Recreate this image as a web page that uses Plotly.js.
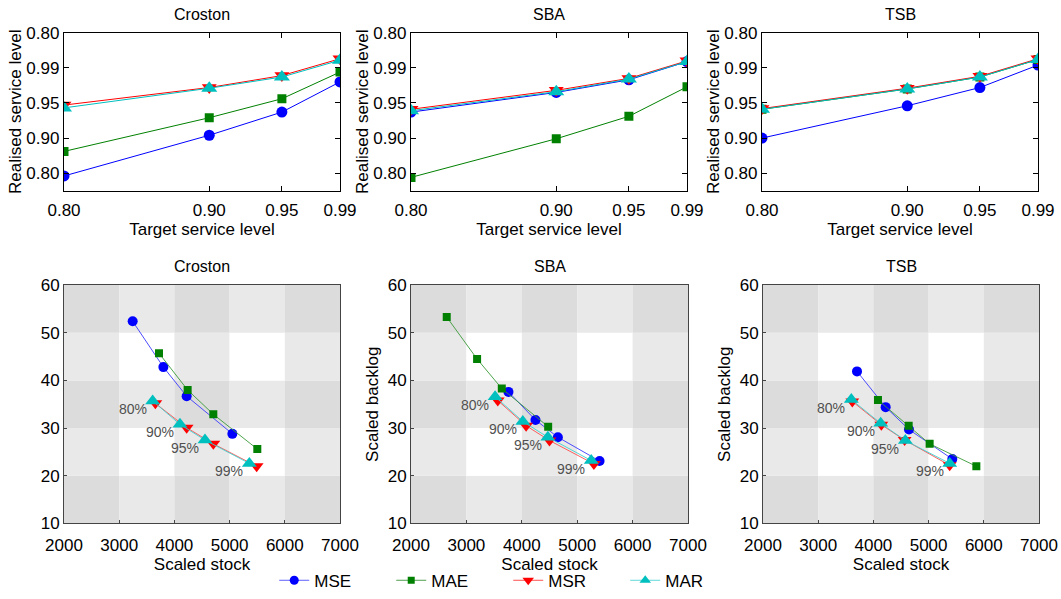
<!DOCTYPE html>
<html>
<head>
<meta charset="utf-8">
<script src="https://cdn.plot.ly/plotly-3.0.1.min.js"></script>
<style>html,body{margin:0;padding:0;background:#fff;}#chart{width:1061px;height:599px;}</style>
</head>
<body>
<div id="chart"></div>
<script>
// ---------- data ----------
const methods = ['MSE', 'MAE', 'MSR', 'MAR'];
const forecasters = ['Croston', 'SBA', 'TSB'];
const targetLevels = [0.80, 0.90, 0.95, 0.99];
const targetTickText = ['0.80', '0.90', '0.95', '0.99'];
const realisedTickVals = [0.80, 0.85, 0.90, 0.95, 1.00];
const realisedTickText = ['0.80', '0.90', '0.95', '0.99', '0.80'];
const stockTicks = [2000, 3000, 4000, 5000, 6000, 7000];
const backlogTicks = [10, 20, 30, 40, 50, 60];
const pctLabels = ['80%', '90%', '95%', '99%'];

// Realised service level (top row)
const crostonRealisedMSE = [0.796, 0.854, 0.887, 0.930];
const crostonRealisedMAE = [0.831, 0.879, 0.906, 0.944];
const crostonRealisedMSR = [0.897, 0.922, 0.939, 0.963];
const crostonRealisedMAR = [0.893, 0.921, 0.937, 0.961];

const sbaRealisedMSE = [0.887, 0.915, 0.933, 0.959];
const sbaRealisedMAE = [0.794, 0.849, 0.881, 0.923];
const sbaRealisedMSR = [0.891, 0.918, 0.935, 0.960];
const sbaRealisedMAR = [0.889, 0.916, 0.934, 0.959];

const tsbRealisedMSE = [0.850, 0.896, 0.922, 0.954];
const tsbRealisedMAE = [0.891, 0.920, 0.937, 0.962];
const tsbRealisedMSR = [0.892, 0.921, 0.938, 0.963];
const tsbRealisedMAR = [0.891, 0.920, 0.937, 0.962];

// Scaled stock / scaled backlog (bottom row)
const crostonStockMSE = [3244, 3800, 4222, 5050];
const crostonBacklogMSE = [52.4, 42.8, 36.7, 28.8];
const crostonStockMAE = [3721, 4240, 4705, 5502];
const crostonBacklogMAE = [45.7, 38.0, 32.9, 25.6];
const crostonStockMSR = [3655, 4222, 4705, 5490];
const crostonBacklogMSR = [35.2, 30.1, 26.7, 22.0];
const crostonStockMAR = [3606, 4101, 4554, 5357];
const crostonBacklogMAR = [35.7, 30.8, 27.5, 22.6];

const sbaStockMSE = [3759, 4247, 4651, 5404];
const sbaBacklogMSE = [37.6, 31.7, 28.1, 23.1];
const sbaStockMAE = [2645, 3193, 3639, 4476];
const sbaBacklogMAE = [53.3, 44.5, 38.3, 30.3];
const sbaStockMSR = [3566, 4078, 4500, 5301];
const sbaBacklogMSR = [35.8, 30.5, 27.4, 22.5];
const sbaStockMAR = [3518, 4018, 4470, 5253];
const sbaBacklogMAR = [36.6, 31.4, 28.1, 23.2];

const tsbStockMSE = [3703, 4222, 4645, 5430];
const tsbBacklogMSE = [41.9, 34.4, 29.7, 23.5];
const tsbStockMAE = [4083, 4639, 5019, 5865];
const tsbBacklogMAE = [35.9, 30.5, 26.7, 22.0];
const tsbStockMSR = [3618, 4144, 4566, 5382];
const tsbBacklogMSR = [35.6, 30.7, 27.5, 22.2];
const tsbStockMAR = [3600, 4132, 4578, 5382];
const tsbBacklogMAR = [36.0, 31.0, 27.4, 22.6];

// ---------- assembly ----------
const realised = {
  Croston: [crostonRealisedMSE, crostonRealisedMAE, crostonRealisedMSR, crostonRealisedMAR],
  SBA: [sbaRealisedMSE, sbaRealisedMAE, sbaRealisedMSR, sbaRealisedMAR],
  TSB: [tsbRealisedMSE, tsbRealisedMAE, tsbRealisedMSR, tsbRealisedMAR]
};
const stock = {
  Croston: [crostonStockMSE, crostonStockMAE, crostonStockMSR, crostonStockMAR],
  SBA: [sbaStockMSE, sbaStockMAE, sbaStockMSR, sbaStockMAR],
  TSB: [tsbStockMSE, tsbStockMAE, tsbStockMSR, tsbStockMAR]
};
const backlog = {
  Croston: [crostonBacklogMSE, crostonBacklogMAE, crostonBacklogMSR, crostonBacklogMAR],
  SBA: [sbaBacklogMSE, sbaBacklogMAE, sbaBacklogMSR, sbaBacklogMAR],
  TSB: [tsbBacklogMSE, tsbBacklogMAE, tsbBacklogMSR, tsbBacklogMAR]
};

const markerColors = ['#0000ff', '#008000', '#ff0000', '#00bfbf'];
const lineColorsBottom = ['#3a3aff', '#3a9a3a', '#ff4d4d', '#40d0d0'];
const legendLineColors = ['#6060ff', '#50a050', '#ff5050', '#60d8d8'];
const symbols = ['circle', 'square', 'triangle-down', 'triangle-up'];
const sizesTop = [11, 9, 13, 14];
const sizesBottom = [10, 8, 12, 13];
const sizesLegend = [9, 7, 10, 10];

const FONT = 'Liberation Sans, Arial, Helvetica, sans-serif';
const W = 1061, H = 599;
const colPx = [[64, 340], [411, 687], [762, 1038]];
const colPxBottom = [[64, 340], [411, 688], [763, 1039]];
const topPx = [33, 192];
const botPx = [287, 527];
const dx = p => [p[0] / W, p[1] / W];
const dy = p => [1 - p[1] / H, 1 - p[0] / H];

const traces = [];
const layout = {
  width: W, height: H,
  margin: {l: 0, r: 0, t: 0, b: 0},
  paper_bgcolor: '#ffffff',
  plot_bgcolor: '#ffffff',
  font: {family: FONT, color: '#000', size: 16},
  showlegend: true,
  legend: {
    orientation: 'h', x: 0.479, xanchor: 'center', y: 0.024, yanchor: 'middle',
    font: {family: FONT, size: 17, color: '#000'},
    bgcolor: 'rgba(0,0,0,0)', itemsizing: 'trace', entrywidth: 72, tracegroupgap: 0
  },
  annotations: [],
  shapes: []
};

forecasters.forEach((f, i) => {
  const xa = 'x' + (i + 1), ya = 'y' + (i + 1);
  const xb = 'x' + (i + 4), yb = 'y' + (i + 4);
  // top row
  methods.forEach((m, k) => {
    traces.push({
      type: 'scatter', mode: 'lines+markers', name: m,
      x: targetLevels, y: realised[f][k],
      xaxis: xa, yaxis: ya, showlegend: false, legendgroup: m,
      line: {color: markerColors[k], width: 1},
      marker: {symbol: symbols[k], color: markerColors[k], size: sizesTop[k], line: {width: 0}}
    });
  });
  // bottom row
  methods.forEach((m, k) => {
    traces.push({
      type: 'scatter', mode: 'lines+markers', name: m,
      x: stock[f][k], y: backlog[f][k],
      xaxis: xb, yaxis: yb, showlegend: false, legendgroup: m,
      line: {color: lineColorsBottom[k], width: 0.9},
      marker: {symbol: symbols[k], color: markerColors[k], size: sizesBottom[k], line: {width: 0}}
    });
  });

  const topX = {
    domain: dx(colPx[i]), anchor: ya, range: [0.80, 0.99],
    tickvals: targetLevels, ticktext: targetTickText,
    ticks: 'inside', ticklen: 5, tickcolor: '#000', mirror: 'ticks',
    showline: true, linecolor: '#000', linewidth: 1.2, showgrid: false, zeroline: false,
    tickfont: {size: 17, family: FONT}, ticklabelstandoff: 4,
    title: {text: 'Target service level', font: {size: 17, family: FONT}, standoff: 0}
  };
  const topY = {
    domain: dy(topPx), anchor: xa, range: [0.775, 1.0],
    tickvals: realisedTickVals, ticktext: realisedTickText,
    ticks: 'inside', ticklen: 5, tickcolor: '#000', mirror: 'ticks',
    showline: true, linecolor: '#000', linewidth: 1.2, showgrid: false, zeroline: false,
    tickfont: {size: 17, family: FONT},
    title: {text: 'Realised service level', font: {size: 17, family: FONT}, standoff: 0}
  };
  const botX = {
    domain: dx(colPxBottom[i]), anchor: yb, range: [2000, 7000],
    tickvals: stockTicks,
    ticks: 'inside', ticklen: 3, tickcolor: '#444', mirror: true,
    showline: true, linecolor: '#444', linewidth: 1, showgrid: false, zeroline: false,
    tickfont: {size: 17, family: FONT}, ticklabelstandoff: 6,
    title: {text: 'Scaled stock', font: {size: 17, family: FONT}, standoff: 0}
  };
  const botY = {
    domain: dy(botPx), anchor: xb, range: [10, 60],
    tickvals: backlogTicks,
    ticks: 'inside', ticklen: 3, tickcolor: '#444', mirror: true,
    showline: true, linecolor: '#444', linewidth: 1, showgrid: false, zeroline: false,
    tickfont: {size: 17, family: FONT},
    title: {text: i === 0 ? '' : 'Scaled backlog', font: {size: 17, family: FONT}, standoff: 4}
  };
  layout['xaxis' + (i === 0 ? '' : (i + 1))] = topX;
  layout['yaxis' + (i === 0 ? '' : (i + 1))] = topY;
  layout['xaxis' + (i + 4)] = botX;
  layout['yaxis' + (i + 4)] = botY;

  // subplot titles
  const cx = (colPx[i][0] + colPx[i][1]) / 2 / W;
  layout.annotations.push({xref: 'paper', yref: 'paper', x: cx, y: 1 - 15 / H, text: f,
    showarrow: false, xanchor: 'center', yanchor: 'middle', font: {size: 16, family: FONT}});
  const cxb = (colPxBottom[i][0] + colPxBottom[i][1]) / 2 / W;
  layout.annotations.push({xref: 'paper', yref: 'paper', x: cxb, y: 1 - 268 / H, text: f,
    showarrow: false, xanchor: 'center', yanchor: 'middle', font: {size: 16, family: FONT}});

  // percentage labels next to MAR points
  pctLabels.forEach((t, j) => {
    layout.annotations.push({xref: xb, yref: yb, x: stock[f][3][j], y: backlog[f][3][j], text: t,
      showarrow: false, xanchor: 'center', yanchor: 'middle', xshift: -20, yshift: -8,
      font: {size: 14, family: FONT, color: '#505050'}});
  });

  // checkerboard background
  for (let c = 0; c < 5; c++) {
    for (let r = 0; r < 5; r++) {
      const n = (c % 2 === 0 ? 1 : 0) + (r % 2 === 0 ? 1 : 0);
      const col = n === 2 ? '#dcdcdc' : (n === 1 ? '#e9e9e9' : '#ffffff');
      layout.shapes.push({type: 'rect', xref: xb, yref: yb, layer: 'below',
        x0: stockTicks[c], x1: stockTicks[c + 1], y0: backlogTicks[r], y1: backlogTicks[r + 1],
        fillcolor: col, line: {width: 0}});
    }
  }
});

// legend entries (no data points; only define legend appearance)
methods.forEach((m, k) => {
  traces.push({
    type: 'scatter', mode: 'lines+markers', name: m, x: [null], y: [null],
    xaxis: 'x', yaxis: 'y', showlegend: true, legendgroup: m, hoverinfo: 'skip',
    line: {color: legendLineColors[k], width: 1},
    marker: {symbol: symbols[k], color: markerColors[k], size: sizesLegend[k], line: {width: 0}}
  });
});

Plotly.newPlot('chart', traces, layout, {staticPlot: true});
</script>
</body>
</html>
